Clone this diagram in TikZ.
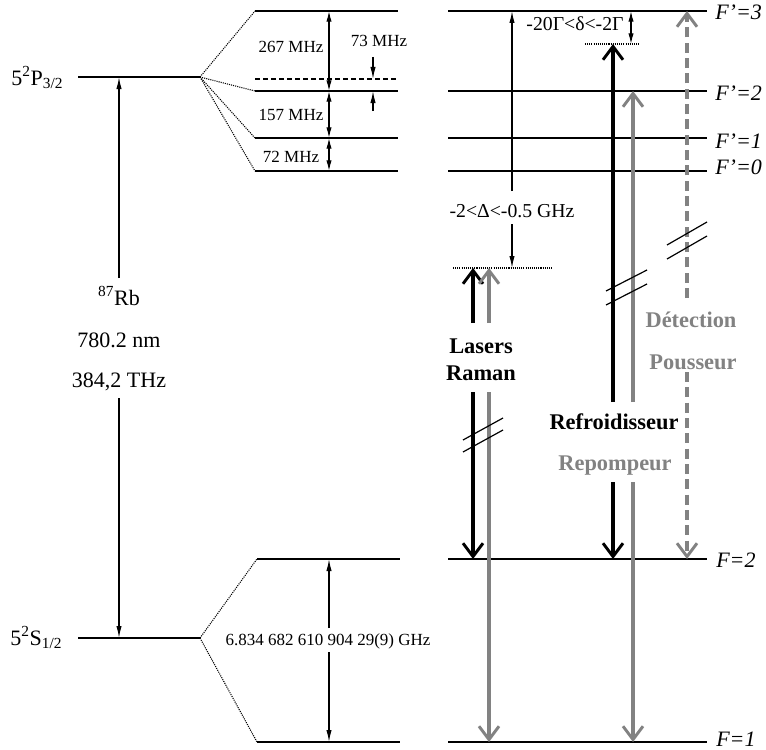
\documentclass[tikz,border=0pt]{standalone}
\usepackage{fontspec}
\setmainfont{Liberation Serif}
\usetikzlibrary{arrows.meta}
\definecolor{beamgray}{RGB}{130,130,130}
\begin{document}
\begin{tikzpicture}[x=0.75pt,y=-0.75pt,
  level/.style={line width=1.1pt},
  thinarr/.style={line width=0.9pt,-{Latex[length=9pt,width=4pt]}},
  thindbl/.style={line width=0.9pt,{Latex[length=8pt,width=4pt]}-{Latex[length=8pt,width=4pt]}},
  beam/.style={line width=2.3pt,-{Straight Barb[length=10pt,width=15pt,line width=2.2pt]}},
  graybeam/.style={beam,draw=beamgray},
  dotline/.style={line width=0.8pt,dash pattern=on 0.8pt off 0.8pt},
  dashline/.style={line width=1pt,dash pattern=on 3.5pt off 2.5pt},
  brk/.style={line width=0.9pt},
  lbl/.style={font=\fontsize{16.5}{18}\selectfont,inner sep=0pt},
  sml/.style={font=\fontsize{12.75}{14}\selectfont,inner sep=0pt},
  mid/.style={font=\fontsize{14.8}{16}\selectfont,inner sep=0pt},
  bold/.style={font=\fontsize{16.8}{18}\selectfont\bfseries,inner sep=0pt},
  flab/.style={font=\fontsize{16.5}{18}\selectfont\itshape,inner sep=0pt,anchor=base west},
]
\useasboundingbox (0,0) rectangle (766,749);

% ---------- left: fine structure ----------
\coordinate (Pl) at (78,77);  \coordinate (Pr) at (200,77);
\coordinate (Sl) at (78,638); \coordinate (Sr) at (200,638);
\draw[level] (Pl) -- (Pr);
\draw[level] (Sl) -- (Sr);
\node[lbl,anchor=base west] (Plab) at (11,85) {5\textsuperscript{2}P\textsubscript{3/2}};
\node[lbl,anchor=base west] (Slab) at (10,645) {5\textsuperscript{2}S\textsubscript{1/2}};
\node[lbl,anchor=base] (rb) at (119,305) {\textsuperscript{87}Rb};
\node[lbl,anchor=base] (nm) at (119,347) {780.2 nm};
\node[lbl,anchor=base] (thz) at (119,387) {384,2 THz};
\coordinate (Ptop) at (119,77); \coordinate (Sbot) at (119,638);
\coordinate (gapT) at (119,278); \coordinate (gapB) at (119,398);
\draw[thinarr] (gapT) -- (Ptop);
\draw[thinarr] (gapB) -- (Sbot);

% ---------- middle: hyperfine P ----------
\coordinate (h3l) at (255,11);  \coordinate (h3r) at (398,11);
\coordinate (hdl) at (255,79);  \coordinate (hdr) at (398,79);
\coordinate (h2l) at (255,91);  \coordinate (h2r) at (398,91);
\coordinate (h1l) at (255,138); \coordinate (h1r) at (398,138);
\coordinate (h0l) at (255,171); \coordinate (h0r) at (398,171);
\draw[level] (h3l) -- (h3r);
\draw[dashline] (hdl) -- (hdr);
\draw[level] (h2l) -- (h2r);
\draw[level] (h1l) -- (h1r);
\draw[level] (h0l) -- (h0r);
\draw[dotline] (Pr) -- (h3l);
\draw[dotline] (Pr) -- (h2l);
\draw[dotline] (Pr) -- (h1l);
\draw[dotline] (Pr) -- (h0l);

\coordinate (m3) at (329,11); \coordinate (m2) at (329,91);
\coordinate (m1) at (329,138); \coordinate (m0) at (329,171);
\draw[thindbl] (m3) -- (m2);
\draw[thindbl] (m2) -- (m1);
\draw[thindbl] (m1) -- (m0);
\node[sml,anchor=base] (l267) at (291,53) {267 MHz};
\node[sml,anchor=base] (l157) at (291,120) {157 MHz};
\node[sml,anchor=base] (l72) at (291,162) {72 MHz};
\node[sml,anchor=base] (l73) at (379,47) {73 MHz};
\coordinate (a73a) at (373,57);  \coordinate (a73b) at (373,79);
\coordinate (a73c) at (373,111); \coordinate (a73d) at (373,91);
\draw[thinarr] (a73a) -- (a73b);
\draw[thinarr] (a73c) -- (a73d);

% ---------- middle: hyperfine S ----------
\coordinate (s2l) at (257,559); \coordinate (s2r) at (400,559);
\coordinate (s1l) at (257,742); \coordinate (s1r) at (400,742);
\draw[level] (s2l) -- (s2r);
\draw[level] (s1l) -- (s1r);
\draw[dotline] (Sr) -- (s2l);
\draw[dotline] (Sr) -- (s1l);
\node[sml,anchor=base] (ghz) at (328,645) {6.834 682 610 904 29(9) GHz};
\coordinate (g2) at (329,559); \coordinate (g1) at (329,742);
\coordinate (gT) at (329,628); \coordinate (gB) at (329,652);
\draw[thinarr] (gT) -- (g2);
\draw[thinarr] (gB) -- (g1);

% ---------- right: levels ----------
\coordinate (R3l) at (448,11);  \coordinate (R3r) at (707,11);
\coordinate (R2l) at (448,91);  \coordinate (R2r) at (707,91);
\coordinate (R1l) at (448,138); \coordinate (R1r) at (707,138);
\coordinate (R0l) at (448,171); \coordinate (R0r) at (707,171);
\coordinate (G2l) at (448,559); \coordinate (G2r) at (707,559);
\coordinate (G1l) at (448,742); \coordinate (G1r) at (707,742);
\draw[level] (R3l) -- (R3r);
\draw[level] (R2l) -- (R2r);
\draw[level] (R1l) -- (R1r);
\draw[level] (R0l) -- (R0r);
\draw[level] (G2l) -- (G2r);
\draw[level] (G1l) -- (G1r);
\node[flab] (f3) at (715,20) {F’=3};
\node[flab] (f2) at (715,100) {F’=2};
\node[flab] (f1) at (715,148) {F’=1};
\node[flab] (f0) at (715,174) {F’=0};
\node[flab] (g2lab) at (716,567) {F=2};
\node[flab] (g1lab) at (716,746) {F=1};

% detunings
\coordinate (rD1) at (453,268); \coordinate (rD2) at (552,268);
\draw[dotline] (rD1) -- (rD2);
\coordinate (cD1) at (585,44); \coordinate (cD2) at (640,44);
\draw[dotline] (cD1) -- (cD2);
\node[mid,anchor=base] (Delta) at (512,217) {-2<Δ<-0.5 GHz};
\coordinate (dTop) at (512,11); \coordinate (dA) at (512,191);
\coordinate (dB) at (512,224); \coordinate (dBot) at (512,268);
\draw[thinarr] (dA) -- (dTop);
\draw[thinarr] (dB) -- (dBot);
\node[mid,anchor=base] (delta) at (575,31) {-20Γ<δ<-2Γ};
\coordinate (eT) at (631,11); \coordinate (eB) at (631,44);
\draw[thindbl] (eT) -- (eB);

% Raman beams
\coordinate (rkU) at (473,323); \coordinate (rkT) at (473,268);
\coordinate (rkL) at (473,392); \coordinate (rkB) at (473,559);
\coordinate (rgU) at (489,323); \coordinate (rgT) at (489,268);
\coordinate (rgL) at (489,392); \coordinate (rgB) at (489,742);
\draw[beam] (rkU) -- (rkT);
\draw[beam] (rkL) -- (rkB);
\draw[graybeam] (rgU) -- (rgT);
\draw[graybeam] (rgL) -- (rgB);
\node[bold,anchor=base] (las) at (481,353) {Lasers};
\node[bold,anchor=base] (ram) at (481,380) {Raman};

% cooler / repumper
\coordinate (ckU) at (613,402); \coordinate (ckT) at (613,44);
\coordinate (ckL) at (613,482); \coordinate (ckB) at (613,559);
\coordinate (cgU) at (633,402); \coordinate (cgT) at (633,91);
\coordinate (cgL) at (633,482); \coordinate (cgB) at (633,742);
\draw[beam] (ckU) -- (ckT);
\draw[beam] (ckL) -- (ckB);
\draw[graybeam] (cgU) -- (cgT);
\draw[graybeam] (cgL) -- (cgB);
\node[bold,anchor=base] (refr) at (614,429) {Refroidisseur};
\node[bold,anchor=base,text=beamgray] (repo) at (615,470) {Repompeur};

% detection / pusher
\coordinate (dgU) at (687,298); \coordinate (dgT) at (687,11);
\coordinate (dgL) at (687,372); \coordinate (dgB) at (687,559);
\draw[graybeam,dash pattern=on 7.5pt off 4pt] (dgU) -- (dgT);
\draw[graybeam,dash pattern=on 7.5pt off 4pt] (dgL) -- (dgB);
\node[bold,anchor=base,text=beamgray] (det) at (691,327) {Détection};
\node[bold,anchor=base,text=beamgray] (pou) at (693,369) {Pousseur};

% break marks
\coordinate (b1a) at (463,440); \coordinate (b1b) at (503,418);
\coordinate (b1c) at (463,452); \coordinate (b1d) at (503,430);
\draw[brk] (b1a) -- (b1b);
\draw[brk] (b1c) -- (b1d);
\coordinate (b2a) at (606,291); \coordinate (b2b) at (647,270);
\coordinate (b2c) at (606,305); \coordinate (b2d) at (647,284);
\draw[brk] (b2a) -- (b2b);
\draw[brk] (b2c) -- (b2d);
\coordinate (b3a) at (667,245); \coordinate (b3b) at (707,222);
\coordinate (b3c) at (667,259); \coordinate (b3d) at (707,236);
\draw[brk] (b3a) -- (b3b);
\draw[brk] (b3c) -- (b3d);
\end{tikzpicture}
\end{document}
